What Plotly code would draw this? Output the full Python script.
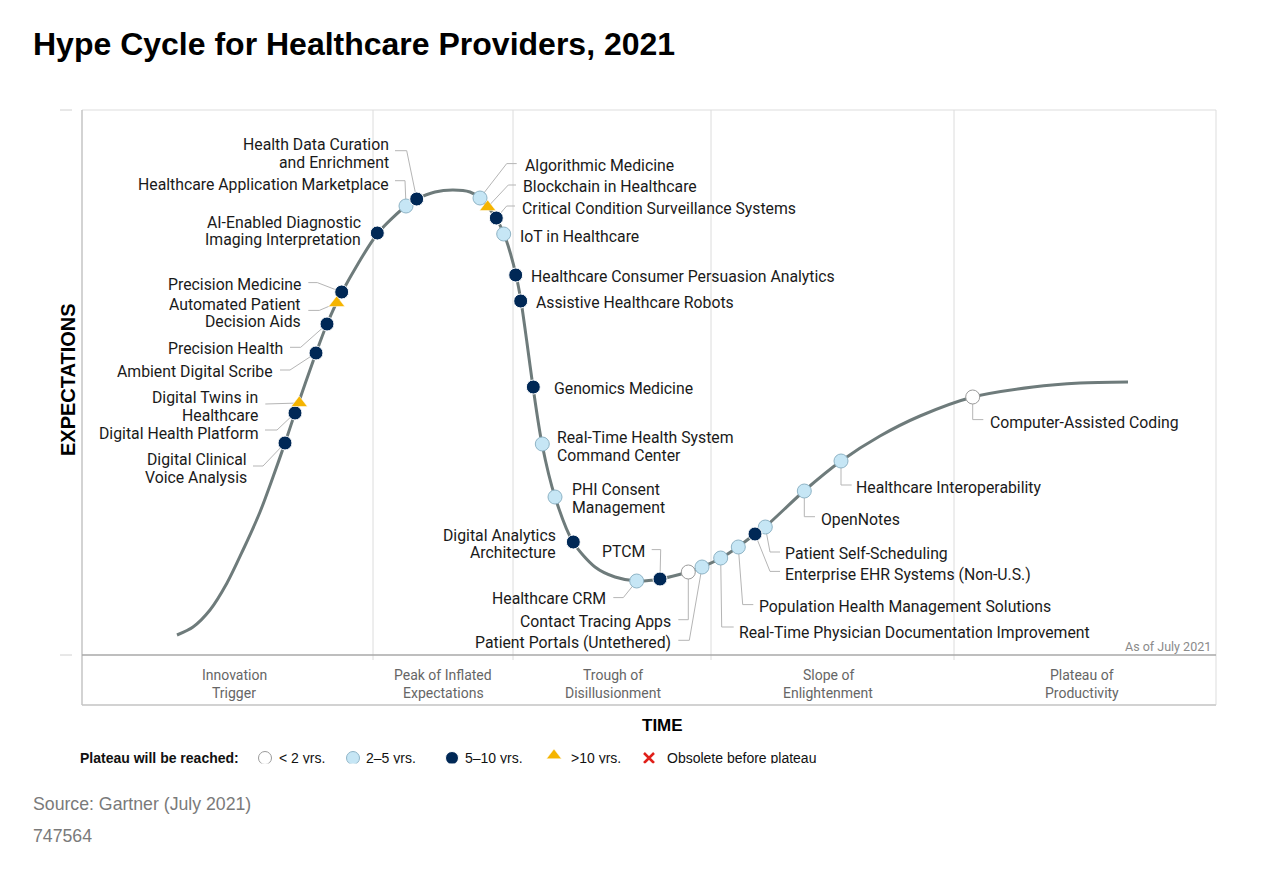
import plotly.graph_objects as go

# ------------------------------------------------------------------ data
# Hype curve (time units, expectation units)
curve_time = [95, 111, 128, 145, 161, 178, 191, 203, 213, 234, 245, 260, 296, 324, 335, 353, 371,
              388, 398, 406, 414, 422, 428, 434, 439, 445, 451, 460, 473, 491, 513,
              533, 555, 578, 606, 620, 639, 656, 673, 683, 722, 759, 798, 838, 891,
              951, 998, 1046]
curve_expect = [20, 28, 45, 72, 105, 143, 178, 212, 242, 302, 331, 363, 422, 449, 456, 463, 465,
                463, 457, 448, 437, 421, 403, 380, 354, 312, 268, 211, 158, 113, 88,
                78, 74, 76, 83, 88, 97, 108, 121, 128, 164, 194, 219, 239, 258,
                268, 272, 273]

tech_names = [
    "Digital Clinical\nVoice Analysis",
    "Digital Health Platform",
    "Digital Twins in\nHealthcare",
    "Ambient Digital Scribe",
    "Precision Health",
    "Automated Patient\nDecision Aids",
    "Precision Medicine",
    "AI-Enabled Diagnostic\nImaging Interpretation",
    "Healthcare Application Marketplace",
    "Health Data Curation\nand Enrichment",
    "Algorithmic Medicine",
    "Blockchain in Healthcare",
    "Critical Condition Surveillance Systems",
    "IoT in Healthcare",
    "Healthcare Consumer Persuasion Analytics",
    "Assistive Healthcare Robots",
    "Genomics Medicine",
    "Real-Time Health System\nCommand Center",
    "PHI Consent\nManagement",
    "Digital Analytics\nArchitecture",
    "Healthcare CRM",
    "PTCM",
    "Contact Tracing Apps",
    "Patient Portals (Untethered)",
    "Real-Time Physician Documentation Improvement",
    "Population Health Management Solutions",
    "Enterprise EHR Systems (Non-U.S.)",
    "Patient Self-Scheduling",
    "OpenNotes",
    "Healthcare Interoperability",
    "Computer-Assisted Coding",
]
tech_time = [203, 213, 217.3, 234, 245, 254.7, 259.7, 295.3, 324, 334.7,
             398, 405.7, 414.3, 421.7, 433.7, 438.7, 451.3, 460.3, 473, 491.3,
             554.7, 578, 606.3, 620, 638.7, 656.3, 673, 683.3, 722.3, 759, 890.7]
tech_expect = [212, 242, 252, 302, 331, 352, 363, 422, 449, 456,
               457, 448, 437, 421, 380, 354, 268, 211, 158, 113,
               74, 76, 83, 88, 97, 108, 121, 128, 164, 194, 258]
tech_plateau = ["5-10", "5-10", ">10", "5-10", "5-10", ">10", "5-10", "5-10", "2-5", "5-10",
                "2-5", ">10", "5-10", "2-5", "5-10", "5-10", "5-10", "2-5", "2-5", "5-10",
                "2-5", "5-10", "<2", "2-5", "2-5", "2-5", "5-10", "2-5", "2-5", "2-5", "<2"]

plateau_keys = ["<2", "2-5", "5-10", ">10", "obsolete"]
plateau_labels = ["< 2 yrs.", "2\u20135 yrs.", "5\u201310 yrs.", ">10 yrs.", "Obsolete before plateau"]

phase_names = ["Innovation\nTrigger", "Peak of Inflated\nExpectations", "Trough of\nDisillusionment",
               "Slope of\nEnlightenment", "Plateau of\nProductivity"]
phase_bounds = [291, 431, 629, 872]

title_text = "Hype Cycle for Healthcare Providers, 2021"
source_text = "Source: Gartner (July 2021)"
doc_id = "747564"

# ------------------------------------------------------------------ layout / styling
W, H = 1280, 871
X0, X1, Y0, Y1 = 82, 1216, 110, 655          # plot frame in pixels
XR, YR = X1 - X0, Y1 - Y0                    # 1 unit == 1 pixel

def px(xp):
    return xp / W

def py(yp):
    return 1 - yp / H

styles = {
    "<2":   dict(symbol="circle", color="#ffffff", line=dict(color="#9a9a9a", width=1), size=14),
    "2-5":  dict(symbol="circle", color="#c6e6f5", line=dict(color="#8fb4c6", width=1), size=14),
    "5-10": dict(symbol="circle", color="#002856", line=dict(color="#ffffff", width=1), size=14),
    ">10":  dict(symbol="triangle-up", color="#f5b400", line=dict(color="#ffffff", width=0.5), size=14),
    "obsolete": dict(symbol="x-thin-open", color="#e0201a", line=dict(color="#e0201a", width=2.5), size=10),
}

# label placement: (dx, dy, anchor, leader pts) in pixel offsets from marker (dy down)
label_layout = [
    (-36, 25.5, "right", [(-32, 23), (-22, 23)]),
    (-34, 20, "right", [(-30, 17), (-18, 17)]),
    (-39, 3.5, "right", [(-34, 1)]),
    (-41, 18.7, "right", [(-36, 17), (-26, 17)]),
    (-42, 24.3, "right", [(-37, 23.3), (-26.3, 23.3)]),
    (-34, 10, "right", [(-28.4, 7.4), (-17.4, 7.4)]),
    (-39, -7.4, "right", [(-33.4, -9.4), (-24.4, -9.4)]),
    (-14, -2, "right", []),
    (-15.3, -21.7, "right", [(-11, -25.3), (-1, -25.3)]),
    (-26, -45.5, "right", [(-21.7, -48.3), (-10, -48.3)]),
    (42.7, -32.7, "left", [(36.7, -34.4), (26.7, -34.4)]),
    (33, -20.3, "left", [(28.3, -22), (20.6, -22)]),
    (23.7, -9.7, "left", [(18.7, -12), (10.4, -12)]),
    (14.6, 2.7, "left", []),
    (13.6, 1, "left", []),
    (13, 1, "left", []),
    (18.4, 1.6, "left", []),
    (12.7, 2.3, "left", []),
    (15, 1.5, "left", []),
    (-15, 2.1, "right", []),
    (-28.4, 17.6, "right", [(-23.4, 16.6), (-13.4, 16.6)]),
    (-13.3, -27.7, "right", [(-8.3, -29.4), (0.7, -29.4)]),
    (-15, 49.4, "right", [(-10, 47.7), (0, 47.7)]),
    (-28.7, 75, "right", [(-23.7, 73.3), (-12.7, 73.3)]),
    (16, 74, "left", [(13, 69), (1, 69)]),
    (19, 59, "left", [(15, 57.6), (4.4, 57.6)]),
    (28.3, 40, "left", [(25, 37.4), (15, 37.4)]),
    (18, 26.6, "left", [(14.7, 25), (4.7, 25)]),
    (14.7, 28, "left", [(10.7, 25.7), (0, 25.7)]),
    (13, 26.7, "left", [(10.7, 24), (0, 24)]),
    (15.6, 25, "left", [(10.6, 22.6), (0, 22.6)]),
]
LINE_H = 17.7
LABEL_FONT = dict(family="Roboto", size=15.8, color="#1a1a1a")

fig = go.Figure()

# curve
fig.add_trace(go.Scatter(x=curve_time, y=curve_expect, mode="lines",
                         line=dict(color="#6e7b7b", width=3, shape="spline", smoothing=0.8),
                         hoverinfo="skip", showlegend=False))

# leader lines
lx, ly = [], []
for i, (dx, dy, anc, pts) in enumerate(label_layout):
    if not pts:
        continue
    mx, my = tech_time[i], tech_expect[i]
    for (ox, oy) in pts:
        lx.append(mx + ox)
        ly.append(my - oy)
    lx.append(mx)
    ly.append(my)
    lx.append(None)
    ly.append(None)
fig.add_trace(go.Scatter(x=lx, y=ly, mode="lines", line=dict(color="#b5b5b5", width=1),
                         hoverinfo="skip", showlegend=False))

# markers
for key in ["<2", "2-5", "5-10", ">10"]:
    idx = [i for i, p in enumerate(tech_plateau) if p == key]
    st = styles[key]
    fig.add_trace(go.Scatter(
        x=[tech_time[i] for i in idx], y=[tech_expect[i] for i in idx], mode="markers",
        marker=dict(symbol=st["symbol"], color=st["color"], size=st["size"], line=st["line"]),
        text=[tech_names[i].replace("\n", " ") for i in idx], hoverinfo="text",
        showlegend=False, cliponaxis=False))

annotations = []
# tech labels
for i, (dx, dy, anc, pts) in enumerate(label_layout):
    lines = tech_names[i].split("\n")
    n = len(lines)
    for k, t in enumerate(lines):
        off = (k - (n - 1) / 2) * LINE_H
        annotations.append(dict(x=tech_time[i] + dx, y=tech_expect[i] - dy - off,
                                xref="x", yref="y", text=t, showarrow=False,
                                xanchor=anc, yanchor="middle", font=LABEL_FONT))

# phase labels
phase_centers = [234, 443, 613, 828, 1082]
for name, cx in zip(phase_names, phase_centers):
    lines = name.split("\n")
    for k, t in enumerate(lines):
        annotations.append(dict(x=px(cx), y=py(675 + k * 18), xref="paper", yref="paper",
                                text=t, showarrow=False, xanchor="center", yanchor="middle",
                                font=dict(family="Roboto", size=14, color="#666666")))

annotations += [
    dict(x=px(31), y=py(44), xref="paper", yref="paper", text="<b>" + title_text + "</b>",
         showarrow=False, xanchor="left", yanchor="middle",
         font=dict(family="Liberation Sans", size=32, color="#000000")),
    dict(x=px(68), y=py(380), xref="paper", yref="paper", text="<b>EXPECTATIONS</b>",
         showarrow=False, textangle=-90, xanchor="center", yanchor="middle",
         font=dict(family="Liberation Sans", size=20, color="#000000")),
    dict(x=px(662), y=py(725), xref="paper", yref="paper", text="<b>TIME</b>",
         showarrow=False, xanchor="center", yanchor="middle",
         font=dict(family="Liberation Sans", size=17, color="#000000")),
    dict(x=px(1213), y=py(646), xref="paper", yref="paper", text="As of July 2021",
         showarrow=False, xanchor="right", yanchor="middle",
         font=dict(family="Roboto", size=12.5, color="#8a8a8a")),
    dict(x=px(31), y=py(804), xref="paper", yref="paper", text=source_text,
         showarrow=False, xanchor="left", yanchor="middle",
         font=dict(family="Liberation Sans", size=17.7, color="#7a7a7a")),
    dict(x=px(31), y=py(836), xref="paper", yref="paper", text=doc_id,
         showarrow=False, xanchor="left", yanchor="middle",
         font=dict(family="Liberation Sans", size=17.7, color="#7a7a7a")),
]

# legend row (own subplot so that its bottom is clipped as in the original)
LEG_Y = 759.5
leg_sym_x = [265, 353, 452, 554, 649]
leg_txt_x = [279, 366, 465, 571, 667]
for key, sx in zip(plateau_keys, leg_sym_x):
    st = styles[key]
    fig.add_trace(go.Scatter(x=[sx], y=[758 if key != ">10" else 755.5], xaxis="x2", yaxis="y2",
                             mode="markers",
                             marker=dict(symbol=st["symbol"], color=st["color"],
                                         size=13 if key != "obsolete" else 10, line=st["line"]),
                             hoverinfo="skip", showlegend=False, cliponaxis=True))
fig.add_trace(go.Scatter(x=leg_txt_x, y=[LEG_Y] * 5, xaxis="x2", yaxis="y2", mode="text",
                         text=plateau_labels, textposition="middle right",
                         textfont=dict(family="Liberation Sans", size=14, color="#111111"),
                         hoverinfo="skip", showlegend=False, cliponaxis=True))
fig.add_trace(go.Scatter(x=[80], y=[LEG_Y], xaxis="x2", yaxis="y2", mode="text",
                         text=["<b>Plateau will be reached:</b>"], textposition="middle right",
                         textfont=dict(family="Liberation Sans", size=14, color="#111111"),
                         hoverinfo="skip", showlegend=False, cliponaxis=True))

# frame shapes
shapes = []
def seg(x0, y0, x1, y1, color, width=1):
    shapes.append(dict(type="line", xref="paper", yref="paper", x0=px(x0), y0=py(y0),
                       x1=px(x1), y1=py(y1), line=dict(color=color, width=width), layer="below"))

seg(X0, Y0, X1, Y0, "#dddddd")
seg(X1, Y0, X1, 705, "#dddddd")
seg(X0, 705, X1, 705, "#d2d2d2", 2)
seg(X0, Y0, X0, 705, "#c4c4c4", 1.5)
for b in phase_bounds:
    seg(X0 + b, Y0, X0 + b, Y1 + 5, "#dcdcdc")
seg(X0, Y1, X1, Y1, "#a8a8a8", 1.5)
seg(60, Y0, 72, Y0, "#d0d0d0")
seg(60, Y1, 72, Y1, "#d0d0d0")

fig.update_layout(
    width=W, height=H, margin=dict(l=0, r=0, t=0, b=0),
    paper_bgcolor="white", plot_bgcolor="rgba(0,0,0,0)",
    xaxis=dict(domain=[px(X0), px(X1)], range=[0, XR], visible=False, fixedrange=True),
    yaxis=dict(domain=[py(Y1), py(Y0)], range=[0, YR], visible=False, fixedrange=True),
    xaxis2=dict(domain=[0, 1], range=[0, W], visible=False, anchor="y2", fixedrange=True),
    yaxis2=dict(domain=[py(763.5), py(745)], range=[763.5, 745], visible=False,
                anchor="x2", fixedrange=True),
    shapes=shapes, annotations=annotations, showlegend=False,
    font=dict(family="Roboto"),
)

fig.write_html("out.html")
